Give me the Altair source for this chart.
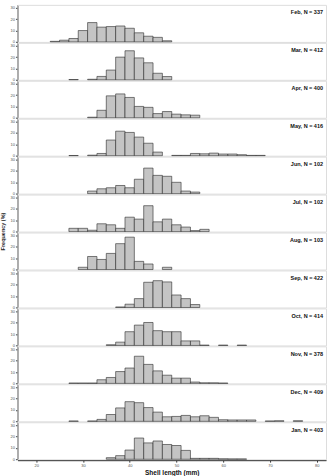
import altair as alt
import pandas as pd

months = ["Feb", "Mar", "Apr", "May", "Jun", "Jul", "Aug", "Sep", "Oct", "Nov", "Dec", "Jan"]
n_values = [337, 412, 400, 416, 102, 102, 103, 422, 414, 378, 409, 403]

# 2-mm shell-length classes (left edges)
bin_starts = list(range(23, 77, 2))

feb = [0.5, 1.5, 3, 10, 17, 13, 13.5, 14, 12, 8, 5, 4, 1, 0, 0, 0, 0, 0, 0, 0, 0, 0, 0, 0, 0, 0, 0]
mar = [0, 0, 0.3, 0, 0.5, 3, 8.6, 20, 25.6, 19.3, 15, 5.8, 2.9, 0, 0, 0, 0, 0, 0, 0, 0, 0, 0, 0, 0, 0, 0]
apr = [0, 0, 0, 0, 0.5, 6.6, 19.3, 21, 17.9, 10, 9.2, 3.7, 5.5, 3.2, 2.6, 2.3, 0, 0, 0, 0, 0, 0, 0, 0, 0, 0, 0]
may = [0, 0, 0.2, 0, 0.5, 2, 13.8, 21.6, 20.5, 16.4, 11, 3.2, 0, 0.3, 0.3, 2, 1.7, 2.3, 1.5, 1.5, 0.9, 0.3, 0.3, 0, 0, 0, 0]
jun = [0, 0, 0, 0, 2.3, 4.3, 5.2, 7.2, 5.2, 12.7, 22.5, 16.1, 15.3, 10, 2.3, 1.4, 0, 0, 0, 0, 0, 0, 0, 0, 0, 0, 0]
jul = [0, 0, 2.9, 2.9, 1.2, 6.9, 6, 2.9, 12.7, 11, 22.8, 8.6, 11, 6, 4, 0.9, 2, 0, 0, 0, 0, 0, 0, 0, 0, 0, 0]
aug = [0, 0, 0, 2, 11.5, 8.9, 14.2, 22.8, 28.5, 7.2, 4.9, 0, 2, 0, 0, 0, 0, 0, 0, 0, 0, 0, 0, 0, 0, 0, 0]
sep = [0, 0, 0, 0, 0, 0, 0, 0.5, 2.9, 7.8, 22.2, 23.6, 22.5, 11, 7.8, 2.6, 0, 0, 0, 0, 0, 0, 0, 0, 0, 0, 0]
oct_ = [0, 0, 0, 0, 0, 0, 0.6, 2.9, 12.1, 17.9, 20.2, 13, 12.1, 12.1, 4, 4, 0.3, 0, 0.3, 0, 0.3, 0, 0, 0, 0, 0, 0]
nov = [0, 0, 0.3, 0.3, 0.3, 3.2, 5.2, 10.4, 13.5, 23.9, 16.7, 11, 7.2, 4.6, 4.6, 1.2, 0.5, 0.5, 0.3, 0, 0, 0, 0, 0, 0, 0, 0]
dec = [0, 0, 0.3, 0, 0.3, 1.7, 6, 11.8, 17.3, 16.4, 12.1, 8.1, 4, 4.3, 5.2, 4, 4.9, 3.5, 1.4, 1.2, 1.2, 1.2, 0, 0.3, 0.5, 0, 0.5]
jan = [0, 0, 0, 0, 0, 0, 1.4, 3.2, 8.1, 18.7, 14.4, 16.1, 13, 12.1, 7.8, 0.8, 0.8, 0.8, 0.4, 0.3, 0.3, 0, 0, 0, 0, 0, 0]

series = [feb, mar, apr, may, jun, jul, aug, sep, oct_, nov, dec, jan]

x_ticks = [20, 30, 40, 50, 60, 70, 80]
y_ticks = [0, 10, 20, 30]
y_title = "Frequency (%)"
x_title = "Shell length (mm)"

rows = []
for m, n, vals in zip(months, n_values, series):
    for b, v in zip(bin_starts, vals):
        if v > 0:
            rows.append(dict(month=m, kind="bar", start=b, end=b + 2, freq=v))
    rows.append(dict(month=m, kind="label", label=f"{m}, N = {n}"))
rows.append(dict(month="Jul", kind="ytitle", label=y_title))
df = pd.DataFrame(rows)

FONT = "Liberation Sans"

bars = alt.Chart().transform_filter(alt.datum.kind == "bar").mark_bar(
    fill="#c4c4c4", stroke="#2a2a2a", strokeWidth=0.6
).encode(
    x=alt.X("start:Q", scale=alt.Scale(domain=[16, 82], nice=False, zero=False),
            axis=alt.Axis(values=x_ticks, title=x_title, titleFontSize=6.5,
                          titleFontWeight="bold", titleColor="#111", titlePadding=2,
                          labelFontSize=4, labelColor="#555", tickSize=2, tickColor="#444",
                          labelPadding=1, grid=False, domainColor="black")),
    x2="end:Q",
    y=alt.Y("freq:Q", scale=alt.Scale(domain=[0, 32.6], nice=False),
            axis=alt.Axis(values=y_ticks, title=None, labelFontSize=4, labelColor="#555",
                          tickSize=2, tickColor="#444", labelPadding=1, grid=False,
                          domainColor="black", minExtent=0)),
    y2=alt.datum(0),
)

text = alt.Chart().transform_filter(alt.datum.kind == "label").mark_text(
    align="right", baseline="middle", fontSize=5.5, fontWeight="bold", font=FONT, color="#111"
).encode(
    x=alt.value(306),
    y=alt.value(7.5),
    text="label:N",
)

ytitle = alt.Chart().transform_filter(alt.datum.kind == "ytitle").mark_text(
    align="center", baseline="middle", angle=270, fontSize=5.5, fontWeight="bold",
    font=FONT, color="#222"
).encode(
    x=alt.value(-14),
    y=alt.value(37),
    text="label:N",
)

chart = alt.layer(bars, text, ytitle, data=df).properties(width=309, height=37.1).facet(
    row=alt.Row("month:N", sort=months, title=None,
                header=alt.Header(labels=False, labelPadding=0)),
    spacing=0,
    bounds="flush",
).configure_view(
    stroke="black", strokeWidth=0.8
).configure(
    font=FONT
).properties(
    padding={"left": 0.5, "top": 3.5, "right": 2, "bottom": 1}
)

chart.save("out.html", embed_options={"renderer": "svg", "actions": False})
